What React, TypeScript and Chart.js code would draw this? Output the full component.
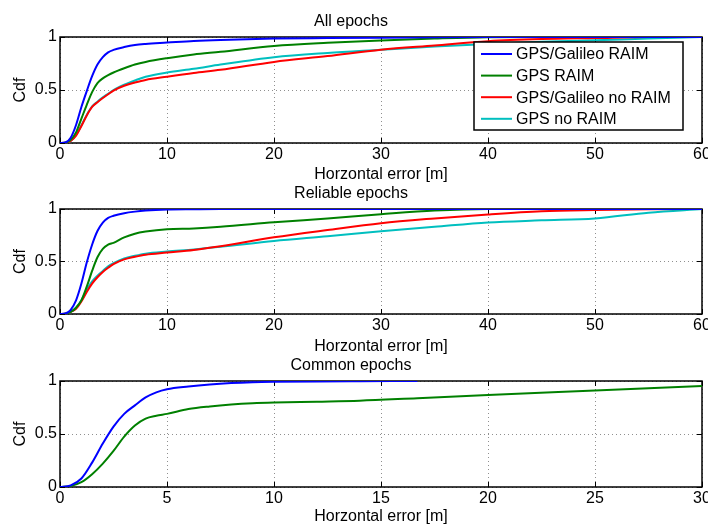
import React, { useEffect, useRef } from "react";
import { Chart, registerables } from "chart.js";

Chart.register(...registerables);

// ---------- data ----------
const SERIES_LABELS = ["GPS/Galileo RAIM", "GPS RAIM", "GPS/Galileo no RAIM", "GPS no RAIM"];
const SERIES_COLORS = ["#0000ff", "#008000", "#ff0000", "#00bfbf"];

const X_ERR_60 = [0, 0.5, 1, 1.5, 2, 2.5, 3, 3.5, 4, 4.5, 5, 6, 7, 8, 10, 12.5, 15, 20, 25, 30, 35, 40, 45, 50, 55, 60];

const ALL_GAL_RAIM = [0, 0.005, 0.05, 0.17, 0.34, 0.49, 0.63, 0.74, 0.81, 0.855, 0.878, 0.905, 0.925, 0.935, 0.947, 0.962, 0.972, 0.985, 0.99, 0.994, 0.997, 0.999, 1, 1, 1, 1];
const ALL_GPS_RAIM = [0, 0.003, 0.03, 0.1, 0.23, 0.36, 0.48, 0.565, 0.61, 0.64, 0.665, 0.705, 0.74, 0.765, 0.8, 0.835, 0.86, 0.915, 0.945, 0.967, 0.985, 0.998, 1, 1, 1, 1];
const ALL_GAL_NORAIM = [0, 0.002, 0.02, 0.07, 0.16, 0.26, 0.34, 0.385, 0.425, 0.46, 0.495, 0.54, 0.57, 0.595, 0.625, 0.66, 0.69, 0.765, 0.82, 0.88, 0.92, 0.96, 0.98, 0.99, 1, 1];
const ALL_GPS_NORAIM = [0, 0.002, 0.02, 0.075, 0.165, 0.265, 0.345, 0.39, 0.43, 0.465, 0.5, 0.55, 0.59, 0.625, 0.665, 0.7, 0.74, 0.81, 0.85, 0.88, 0.91, 0.935, 0.955, 0.97, 0.985, 1];

const REL_GAL_RAIM = [0, 0.005, 0.04, 0.13, 0.29, 0.49, 0.66, 0.79, 0.87, 0.915, 0.935, 0.96, 0.975, 0.985, 0.995, 0.998, 1, 1, 1, 1, 1, 1, 1, 1, 1, 1];
const REL_GPS_RAIM = [0, 0.003, 0.02, 0.06, 0.13, 0.26, 0.41, 0.54, 0.62, 0.66, 0.678, 0.73, 0.765, 0.785, 0.808, 0.815, 0.83, 0.873, 0.91, 0.95, 0.985, 1, 1, 1, 1, 1];
const REL_GAL_NORAIM = [0, 0.002, 0.02, 0.05, 0.12, 0.21, 0.29, 0.35, 0.4, 0.44, 0.475, 0.52, 0.545, 0.565, 0.585, 0.61, 0.645, 0.73, 0.8, 0.865, 0.91, 0.948, 0.978, 0.99, 0.997, 1];
const REL_GPS_NORAIM = [0, 0.002, 0.02, 0.06, 0.13, 0.23, 0.31, 0.365, 0.41, 0.455, 0.485, 0.53, 0.555, 0.575, 0.595, 0.615, 0.64, 0.695, 0.74, 0.787, 0.83, 0.872, 0.892, 0.91, 0.965, 1];

const X_ERR_30 = [0, 0.5, 1, 1.5, 2, 2.5, 3, 3.5, 4, 4.5, 5, 6, 7, 8, 9, 10, 12, 14, 16.7, 20, 25, 30];
const COM_GAL_RAIM = [0, 0.015, 0.08, 0.23, 0.41, 0.57, 0.69, 0.77, 0.845, 0.893, 0.922, 0.948, 0.967, 0.98, 0.988, 0.992, 0.996, 0.998, 1, null, null, null];
const COM_GPS_RAIM = [0, 0.01, 0.045, 0.12, 0.22, 0.34, 0.475, 0.58, 0.645, 0.672, 0.69, 0.735, 0.76, 0.778, 0.79, 0.797, 0.805, 0.814, 0.838, 0.867, 0.91, 0.953];

const TITLES = ["All epochs", "Reliable epochs", "Common epochs"];
const X_LABEL = "Horzontal error [m]";
const Y_LABEL = "Cdf";

// ---------- style ----------
const FONT = "'Liberation Sans', Arial, Helvetica, sans-serif";
const FS = 16;
const LH = FS * 1.2;
const CANVAS_W = 708;
const CANVAS_H = 186;
const CHART_TOP = 37;

const matlabAxes = {
  id: "matlabAxes",
  beforeDatasetsDraw(chart: any) {
    const { ctx, chartArea } = chart;
    const { left, right, top, bottom } = chartArea;
    const xs = chart.scales.x;
    const ys = chart.scales.y;
    ctx.save();
    ctx.strokeStyle = "#000";
    ctx.lineWidth = 1;
    ctx.beginPath();
    xs.ticks.forEach((t: any) => {
      const px = Math.round(xs.getPixelForValue(t.value) - 0.5) + 0.5;
      ctx.moveTo(px, bottom);
      ctx.lineTo(px, bottom - 5);
      ctx.moveTo(px, top);
      ctx.lineTo(px, top + 5);
    });
    ys.ticks.forEach((t: any) => {
      const py = Math.round(ys.getPixelForValue(t.value) - 0.5) + 0.5;
      ctx.moveTo(left, py);
      ctx.lineTo(left + 5, py);
      ctx.moveTo(right, py);
      ctx.lineTo(right - 5, py);
    });
    ctx.stroke();
    ctx.lineWidth = 1.5;
    ctx.strokeRect(left, top, right - left, bottom - top);
    ctx.restore();
  },
};

const boxLegend = {
  id: "boxLegend",
  afterDatasetsDraw(chart: any, _args: any, opts: any) {
    if (!opts || !opts.show) return;
    const { ctx, chartArea } = chart;
    const w = 209;
    const h = 88;
    const lx = chartArea.right - 19 - w;
    const ly = chartArea.top + 5;
    ctx.save();
    ctx.fillStyle = "#fff";
    ctx.fillRect(lx, ly, w, h);
    ctx.strokeStyle = "#000";
    ctx.lineWidth = 1.5;
    ctx.strokeRect(lx, ly, w, h);
    ctx.font = `${FS}px ${FONT}`;
    ctx.textBaseline = "middle";
    ctx.textAlign = "left";
    chart.data.datasets.forEach((ds: any, i: number) => {
      const cy = ly + 12 + i * 21.6;
      ctx.strokeStyle = ds.borderColor;
      ctx.lineWidth = 2;
      ctx.beginPath();
      ctx.moveTo(lx + 7, cy);
      ctx.lineTo(lx + 38, cy);
      ctx.stroke();
      ctx.fillStyle = "#000";
      ctx.fillText(ds.label, lx + 42, cy + 1);
    });
    ctx.restore();
  },
};

type PlotProps = {
  top: number;
  plotH: number;
  title: string;
  titleGap: number;
  xLabelGap: number;
  xs: number[];
  series: (number | null)[][];
  xMax: number;
  xStep: number;
  legend: boolean;
};

function Subplot({ top, plotH, title, titleGap, xLabelGap, xs, series, xMax, xStep, legend }: PlotProps) {
  const ref = useRef<HTMLCanvasElement | null>(null);
  useEffect(() => {
    if (!ref.current) return;
    const xAxisH = CANVAS_H - CHART_TOP - plotH;
    const chart = new Chart(ref.current, {
      type: "line",
      data: {
        datasets: series.map((ys, i) => ({
          label: SERIES_LABELS[i],
          data: xs.map((xv, j) => ({ x: xv, y: ys[j] })),
          borderColor: SERIES_COLORS[i],
          backgroundColor: SERIES_COLORS[i],
          borderWidth: 2,
          pointRadius: 0,
          cubicInterpolationMode: "monotone",
          fill: false,
          spanGaps: false,
        })),
      },
      options: {
        responsive: false,
        animation: false,
        devicePixelRatio: 1,
        layout: { padding: { left: 0, right: 6, top: 0, bottom: 0 } },
        plugins: {
          legend: { display: false },
          tooltip: { enabled: false },
          title: {
            display: true,
            text: title,
            color: "#000",
            font: { family: FONT, size: FS, weight: "normal", lineHeight: 1.2 },
            padding: { top: CHART_TOP - titleGap - LH / 2, bottom: titleGap - LH / 2 },
          },
          boxLegend: { show: legend },
        } as any,
        scales: {
          x: {
            type: "linear",
            min: 0,
            max: xMax,
            ticks: {
              stepSize: xStep,
              color: "#000",
              font: { family: FONT, size: FS },
              maxRotation: 0,
              autoSkip: false,
              padding: 1.5,
              callback: (v: any) => String(v),
            },
            grid: { color: "#8f8f8f", lineWidth: 1, drawTicks: false },
            border: { display: false, dash: [1, 3] },
            title: {
              display: true,
              text: X_LABEL,
              color: "#000",
              font: { family: FONT, size: FS, lineHeight: 1.2 },
              padding: { top: 0, bottom: xAxisH - xLabelGap - LH / 2 },
            },
            afterFit: (s: any) => {
              s.height = xAxisH;
              s.paddingLeft = 0;
              s.paddingRight = 0;
            },
          },
          y: {
            type: "linear",
            min: 0,
            max: 1,
            ticks: {
              stepSize: 0.5,
              color: "#000",
              font: { family: FONT, size: FS },
              padding: 3,
              callback: (v: any) => String(v),
            },
            grid: { color: "#8f8f8f", lineWidth: 1, drawTicks: false },
            border: { display: false, dash: [1, 3] },
            title: {
              display: true,
              text: Y_LABEL,
              color: "#000",
              font: { family: FONT, size: FS, lineHeight: 1.2 },
              padding: { top: 21 - LH / 2, bottom: 0 },
            },
            afterFit: (s: any) => {
              s.width = 60;
              s.paddingTop = 0;
              s.paddingBottom = 0;
            },
          },
        },
      } as any,
      plugins: [matlabAxes, boxLegend],
    });
    return () => chart.destroy();
  }, []);
  return (
    <canvas
      ref={ref}
      width={CANVAS_W}
      height={CANVAS_H}
      style={{ position: "absolute", left: 0, top, width: CANVAS_W, height: CANVAS_H, display: "block" }}
    />
  );
}

export default function App() {
  return (
    <div
      style={{
        position: "fixed",
        left: 0,
        top: 0,
        width: 708,
        height: 526,
        overflow: "hidden",
        background: "#fff",
      }}
    >
      <Subplot
        top={0}
        plotH={106}
        title={TITLES[0]}
        titleGap={15.5}
        xLabelGap={32}
        xs={X_ERR_60}
        series={[ALL_GAL_RAIM, ALL_GPS_RAIM, ALL_GAL_NORAIM, ALL_GPS_NORAIM]}
        xMax={60}
        xStep={10}
        legend={true}
      />
      <Subplot
        top={172}
        plotH={105}
        title={TITLES[1]}
        titleGap={15}
        xLabelGap={32.5}
        xs={X_ERR_60}
        series={[REL_GAL_RAIM, REL_GPS_RAIM, REL_GAL_NORAIM, REL_GPS_NORAIM]}
        xMax={60}
        xStep={10}
        legend={false}
      />
      <Subplot
        top={344}
        plotH={106}
        title={TITLES[2]}
        titleGap={15}
        xLabelGap={30}
        xs={X_ERR_30}
        series={[COM_GAL_RAIM, COM_GPS_RAIM]}
        xMax={30}
        xStep={5}
        legend={false}
      />
    </div>
  );
}
